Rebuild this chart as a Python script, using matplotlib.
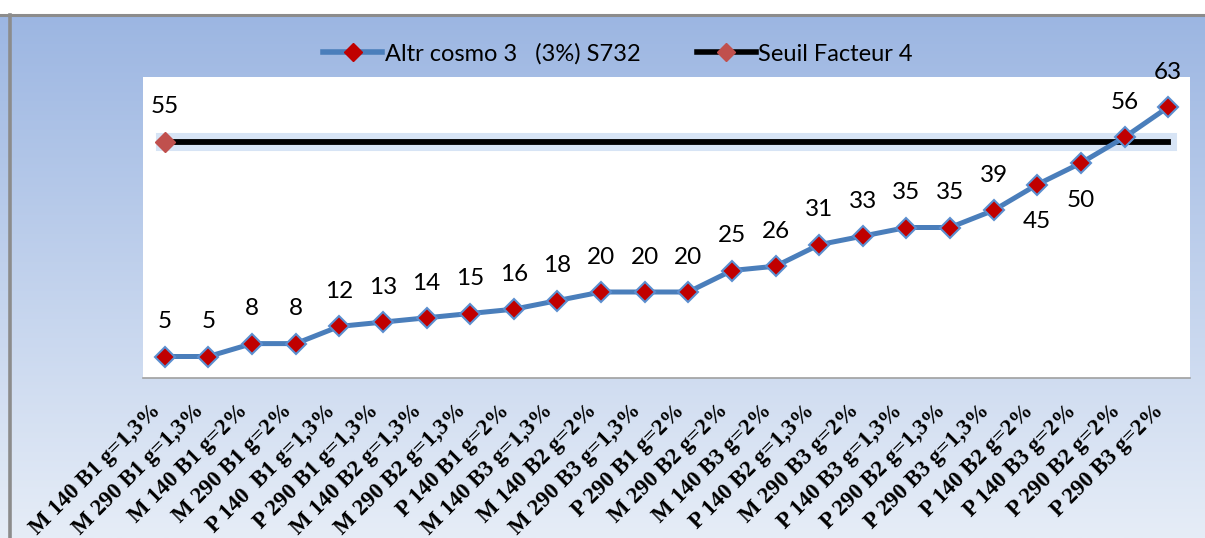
import numpy as np
import matplotlib
matplotlib.use("Agg")
import matplotlib.pyplot as plt
import matplotlib.patheffects as pe
from matplotlib.lines import Line2D

# data
categories = [
    "M 140 B1 g=1,3%", "M 290 B1 g=1,3%", "M 140 B1 g=2%", "M 290 B1 g=2%",
    "P 140  B1 g=1,3%", "P 290 B1 g=1,3%", "M 140 B2 g=1,3%", "M 290 B2 g=1,3%",
    "P 140 B1 g=2%", "M 140 B3 g=1,3%", "M 140 B2 g=2%", "M 290 B3 g=1,3%",
    "P 290 B1 g=2%", "M 290 B2 g=2%", "M 140 B3 g=2%", "P 140 B2 g=1,3%",
    "M 290 B3 g=2%", "P 140 B3 g=1,3%", "P 290 B2 g=1,3%", "P 290 B3 g=1,3%",
    "P 140 B2 g=2%", "P 140 B3 g=2%", "P 290 B2 g=2%", "P 290 B3 g=2%",
]
altr_values = [5, 5, 8, 8, 12, 13, 14, 15, 16, 18, 20, 20, 20, 25, 26, 31,
               33, 35, 35, 39, 45, 50, 56, 63]
seuil_value = 55
series_names = ["Altr cosmo 3   (3%) S732", "Seuil Facteur 4"]

W, H = 1205, 538
fig = plt.figure(figsize=(W / 100, H / 100), dpi=100)
fig.patch.set_facecolor("white")

# gradient background below the grey frame line
bg = fig.add_axes([0, 0, 1, 1 - 15 / H], zorder=-5)
grad = np.linspace(0, 1, 256).reshape(-1, 1)
top_c = np.array([0x9C, 0xB6, 0xE2]) / 255
bot_c = np.array([0xE6, 0xED, 0xF7]) / 255
img = top_c + (bot_c - top_c) * grad
bg.imshow(img.reshape(256, 1, 3), aspect="auto", extent=[0, 1, 0, 1])
bg.set_axis_off()

# grey frame lines (top and left)
fig.add_artist(Line2D([0, 1], [1 - 15 / H] * 2, color="#8C8C8C", lw=2.2,
                      transform=fig.transFigure))
fig.add_artist(Line2D([9.5 / W] * 2, [0, 1 - 15 / H], color="#8C8C8C", lw=2.6,
                      transform=fig.transFigure))

ax = fig.add_axes([143 / W, (H - 378) / H, (1190 - 143) / W, (378 - 77) / H])
ax.set_facecolor("white")

x = np.arange(len(categories))
blue = "#4A7EBB"
red = "#C00000"
rose = "#C0504D"

ax.plot(x, altr_values, color=blue, lw=3.6, marker="D", markersize=10,
        markerfacecolor=red, markeredgecolor="#5B8FD0", markeredgewidth=1.5,
        zorder=4)

seuil = [seuil_value] * len(categories)
ax.plot(x, seuil, color="black", lw=4.2, zorder=3,
        path_effects=[pe.Stroke(linewidth=13, foreground="#C6D9F1", alpha=0.7),
                      pe.Normal()])
ax.plot(x[:1], seuil[:1], ls="none", marker="D", markersize=10,
        markerfacecolor=rose, markeredgecolor=rose, zorder=5)

label_font = dict(family="Lato", fontsize=17.5, color="black")
below = {20, 21}
for i, v in enumerate(altr_values):
    dy = -27 if i in below else 25
    ax.annotate(str(v), (x[i], v), xytext=(0, dy), textcoords="offset points",
                ha="center", va="center", zorder=6, **label_font)
ax.annotate(str(seuil_value), (x[0], seuil_value), xytext=(0, 25),
            textcoords="offset points", ha="center", va="center", **label_font)

ax.set_xlim(-0.5, len(categories) - 0.5)
ax.set_ylim(0, 70)
ax.set_yticks([])
ax.set_xticks(x)
ax.set_xticklabels(categories, rotation=45, ha="right", rotation_mode="default",
                   family="Liberation Serif", fontweight="bold", fontsize=16.5)
ax.tick_params(axis="x", length=0, pad=16)
for s in ["top", "right", "left"]:
    ax.spines[s].set_visible(False)
ax.spines["bottom"].set_color("#A0A0A0")
ax.spines["bottom"].set_linewidth(1.2)

handles = [
    Line2D([], [], color=blue, lw=4, marker="D", markersize=9,
           markerfacecolor=red, markeredgecolor=red),
    Line2D([], [], color="black", lw=4, marker="D", markersize=9,
           markerfacecolor=rose, markeredgecolor=rose),
]
fig.legend(handles, series_names, loc="center", bbox_to_anchor=(618 / W, 1 - 54 / H),
           ncol=2, frameon=False, prop={"family": "Lato", "size": 17},
           handlelength=2.5, handletextpad=0.1, columnspacing=2.4)

fig.savefig("out.png", dpi=100)
